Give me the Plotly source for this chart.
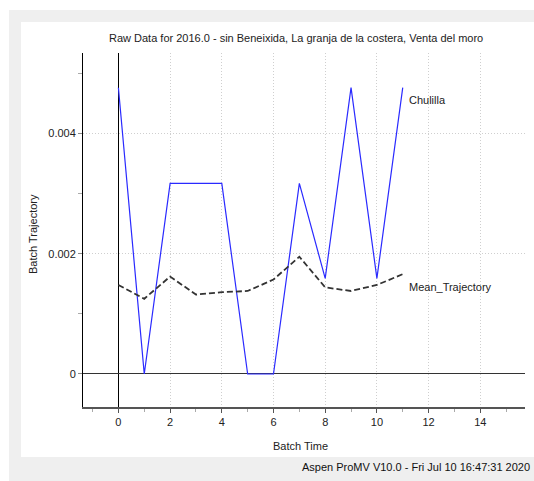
import plotly.graph_objects as go

# Batch trajectories
batch_time = [0, 1, 2, 3, 4, 5, 6, 7, 8, 9, 10, 11]
chulilla = [0.00476, 0.0, 0.00317, 0.00317, 0.00317, 0.0, 0.0,
            0.00317, 0.00159, 0.00476, 0.00159, 0.00476]
mean_trajectory = [0.00148, 0.00125, 0.00162, 0.00132, 0.00136, 0.00138,
                   0.00157, 0.00195, 0.00144, 0.00138, 0.00148, 0.00166]

x_ticks = [0, 2, 4, 6, 8, 10, 12, 14]
y_ticks = [0, 0.002, 0.004]

FONT = "Liberation Sans"
W, H = 534, 481
L, R, T, B = 83, 9, 53, 74
pw, ph = W - L - R, H - T - B


def px(x):
    return (x - L) / pw


def py(y):
    return (H - B - y) / ph


fig = go.Figure()
fig.add_trace(go.Scatter(x=batch_time, y=chulilla, mode="lines",
                         line=dict(color="#2a2aff", width=1.2),
                         name="Chulilla", showlegend=False))
fig.add_trace(go.Scatter(x=batch_time, y=mean_trajectory, mode="lines",
                         line=dict(color="#333333", width=1.8, dash="6px,3px"),
                         name="Mean_Trajectory", showlegend=False))

annotations = [
    dict(x=batch_time[-1], y=chulilla[-1], xref="x", yref="y", text="Chulilla",
         showarrow=False, xanchor="left", yanchor="middle", xshift=4, yshift=-12,
         font=dict(family=FONT, size=11, color="#222")),
    dict(x=batch_time[-1], y=mean_trajectory[-1], xref="x", yref="y",
         text="Mean_Trajectory", showarrow=False, xanchor="left", yanchor="middle",
         xshift=4, yshift=-13, font=dict(family=FONT, size=11, color="#222")),
    dict(x=px(295.5), y=py(38), xref="paper", yref="paper",
         text="Raw Data for 2016.0 - sin Beneixida, La granja de la costera, Venta del moro",
         showarrow=False, xanchor="center", yanchor="middle",
         font=dict(family=FONT, size=11, color="#222")),
    dict(x=px(300), y=py(446), xref="paper", yref="paper", text="Batch Time",
         showarrow=False, xanchor="center", yanchor="middle",
         font=dict(family=FONT, size=11, color="#222")),
    dict(x=px(33), y=py(234), xref="paper", yref="paper", text="Batch Trajectory",
         showarrow=False, xanchor="center", yanchor="middle", textangle=-90,
         font=dict(family=FONT, size=11, color="#222")),
    dict(x=px(532), y=py(467), xref="paper", yref="paper",
         text="Aspen ProMV V10.0 - Fri Jul 10 16:47:31 2020",
         showarrow=False, xanchor="right", yanchor="middle",
         font=dict(family=FONT, size=11, color="#111")),
]

gray = "#efefef"
shapes = [
    # window frame
    dict(type="rect", xref="paper", yref="paper", x0=px(9), x1=px(W), y0=py(10), y1=py(22),
         fillcolor=gray, line=dict(width=0), layer="below"),
    dict(type="rect", xref="paper", yref="paper", x0=px(9), x1=px(21), y0=py(H), y1=py(10),
         fillcolor=gray, line=dict(width=0), layer="below"),
    dict(type="rect", xref="paper", yref="paper", x0=px(9), x1=px(W), y0=py(H), y1=py(457),
         fillcolor=gray, line=dict(width=0), layer="below"),
]

grid_style = dict(showgrid=True, gridcolor="#cfcfcf", griddash="1px,2px", gridwidth=1)

fig.update_layout(
    width=W, height=H,
    margin=dict(l=L, r=R, t=T, b=B),
    paper_bgcolor="white", plot_bgcolor="white",
    annotations=annotations, shapes=shapes,
    font=dict(family=FONT, size=11, color="#222"),
    xaxis=dict(range=[-1.37, 15.73], tickvals=x_ticks, ticktext=[str(v) for v in x_ticks],
               **grid_style,
               zeroline=True, zerolinecolor="#000000", zerolinewidth=1.2,
               showline=True, linecolor="#555555", linewidth=1.5,
               ticks="outside", ticklen=4, tickcolor="#555555",
               minor=dict(tickvals=[-1, 1, 3, 5, 7, 9, 11, 13, 15], ticks="outside",
                          ticklen=3, tickcolor="#aaaaaa", showgrid=False),
               tickfont=dict(family=FONT, size=11, color="#222")),
    yaxis=dict(range=[-0.000549, 0.005337], tickvals=y_ticks, ticktext=["0", "0.002", "0.004"],
               **grid_style,
               zeroline=True, zerolinecolor="#333333", zerolinewidth=1.2,
               showline=True, linecolor="#000000", linewidth=1,
               ticks="outside", ticklen=4, tickcolor="#888888",
               minor=dict(tickvals=[0.001, 0.003, 0.005], ticks="outside",
                          ticklen=4, tickcolor="#aaaaaa", showgrid=False),
               tickfont=dict(family=FONT, size=11, color="#222")),
)

fig.write_html("out.html")
